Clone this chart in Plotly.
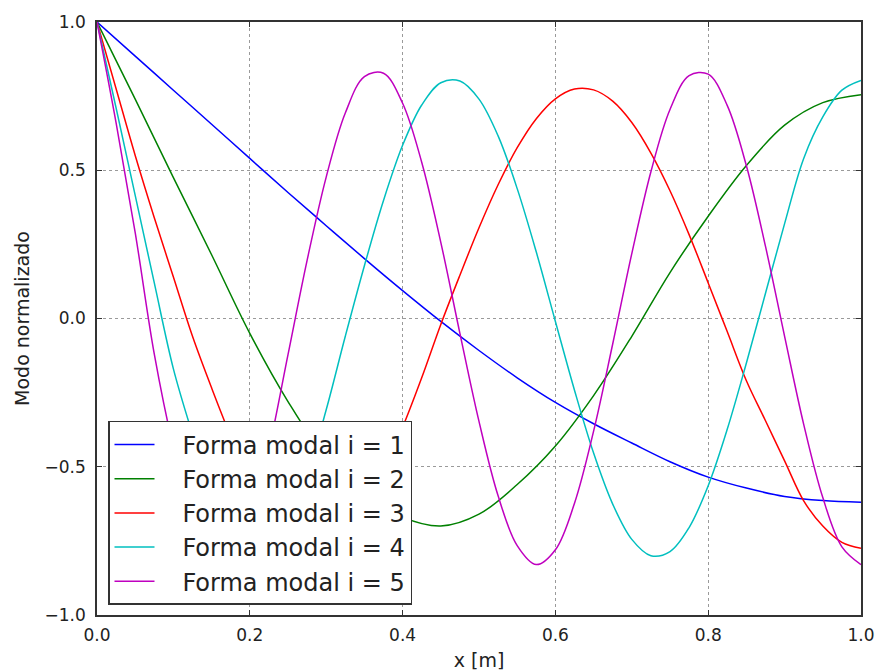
import plotly.graph_objects as go

# Mode 1 (read every 0.05)
x1 = [0.0, 0.05, 0.1, 0.15, 0.2, 0.25, 0.3, 0.35, 0.4, 0.45, 0.5, 0.55, 0.6, 0.65, 0.7, 0.75, 0.8,
      0.85, 0.9, 0.95, 1.0]
y1 = [1.0, 0.885, 0.77, 0.655, 0.54, 0.425, 0.313, 0.202, 0.094, -0.01, -0.108, -0.2, -0.283, -0.355,
      -0.42, -0.483, -0.535, -0.572, -0.6, -0.614, -0.62]

# Mode 2 (read every 0.05)
x2 = [0.0, 0.05, 0.1, 0.15, 0.2, 0.25, 0.3, 0.35, 0.4, 0.45, 0.5, 0.55, 0.6, 0.65, 0.7, 0.75, 0.8,
      0.85, 0.9, 0.95, 1.0]
y2 = [1.0, 0.74, 0.475, 0.215, -0.05, -0.28, -0.47, -0.59, -0.67, -0.70, -0.66, -0.56, -0.43, -0.26,
      -0.06, 0.155, 0.345, 0.516, 0.652, 0.728, 0.755]

# Modes 3-5 (read every 0.025)
x3 = [0.0, 0.025, 0.05, 0.075, 0.1, 0.125, 0.15, 0.175, 0.2, 0.225, 0.25, 0.275, 0.3, 0.325, 0.35,
      0.375, 0.4, 0.425, 0.45, 0.475, 0.5, 0.525, 0.55, 0.575, 0.6, 0.625, 0.65, 0.675, 0.7, 0.725,
      0.75, 0.775, 0.8, 0.825, 0.85, 0.875, 0.9, 0.925, 0.95, 0.975, 1.0]
y3 = [1.0, 0.775, 0.55, 0.34, 0.14, -0.06, -0.234, -0.397, -0.54, -0.652, -0.729, -0.767, -0.762,
      -0.717, -0.632, -0.513, -0.367, -0.2, -0.02, 0.146, 0.306, 0.451, 0.576, 0.674, 0.741, 0.774,
      0.771, 0.733, 0.661, 0.558, 0.431, 0.283, 0.12, -0.045, -0.21, -0.345, -0.48, -0.615, -0.70,
      -0.755, -0.775]

x4 = x3
y4 = [1.0, 0.71, 0.415, 0.12, -0.17, -0.39, -0.59, -0.73, -0.795, -0.781, -0.687, -0.527, -0.308,
      -0.06, 0.178, 0.398, 0.584, 0.72, 0.795, 0.801, 0.74, 0.616, 0.438, 0.224, -0.01, -0.242,
      -0.454, -0.626, -0.745, -0.8, -0.786, -0.705, -0.564, -0.373, -0.15, 0.085, 0.32, 0.54, 0.68,
      0.77, 0.803]

x5 = x3
y5 = [1.0, 0.66, 0.29, -0.12, -0.436, -0.682, -0.81, -0.81, -0.682, -0.44, -0.122, 0.196, 0.477,
      0.693, 0.816, 0.827, 0.726, 0.527, 0.257, -0.05, -0.347, -0.598, -0.766, -0.83, -0.78, -0.623,
      -0.38, -0.086, 0.219, 0.495, 0.705, 0.819, 0.824, 0.718, 0.515, 0.243, -0.06, -0.357, -0.604,
      -0.77, -0.83]

labels = ["Forma modal i = 1", "Forma modal i = 2", "Forma modal i = 3",
          "Forma modal i = 4", "Forma modal i = 5"]
colors = ["#0000ff", "#008000", "#ff0000", "#00bfbf", "#bf00bf"]
xs = [x1, x2, x3, x4, x5]
ys = [y1, y2, y3, y4, y5]

x_ticks = [0.0, 0.2, 0.4, 0.6, 0.8, 1.0]
y_ticks = [-1.0, -0.5, 0.0, 0.5, 1.0]

FONT = "DejaVu Sans"
PAD = "\u00a0\u00a0\u00a0"

fig = go.Figure()
for i in range(5):
    fig.add_trace(go.Scatter(
        x=xs[i], y=ys[i], mode="lines", name=PAD + labels[i],
        legendgroup=f"g{i}",
        line=dict(color=colors[i], width=1.5, shape="spline", smoothing=1.0),
    ))

axis_common = dict(
    showline=True, linecolor="#333333", linewidth=1.5, mirror="ticks",
    ticks="inside", ticklen=5, tickcolor="#333333",
    showgrid=True, gridcolor="#9a9a9a", griddash="dot", gridwidth=1,
    zeroline=False, tickformat=".1f", automargin=False,
    tickfont=dict(family=FONT, size=17, color="#222222"),
)

fig.update_layout(
    width=879, height=672,
    margin=dict(l=97, r=18, t=22, b=57),
    paper_bgcolor="white", plot_bgcolor="white",
    font=dict(family=FONT, color="#222222"),
    showlegend=True,
    legend=dict(
        x=0.0144, y=0.017, xanchor="left", yanchor="bottom",
        bgcolor="white", bordercolor="#333333", borderwidth=1.5,
        font=dict(family=FONT, size=24, color="#222222"),
        itemwidth=40, traceorder="grouped", tracegroupgap=0,
    ),
    xaxis=dict(range=[0, 1], tickvals=x_ticks,
               title=dict(text="x [m]", font=dict(family=FONT, size=19), standoff=10),
               ticklabelstandoff=4, **axis_common),
    yaxis=dict(range=[-1, 1], tickvals=y_ticks,
               title=dict(text="Modo normalizado", font=dict(family=FONT, size=19), standoff=10),
               ticklabelstandoff=6, **axis_common),
)

fig.write_html("out.html")
